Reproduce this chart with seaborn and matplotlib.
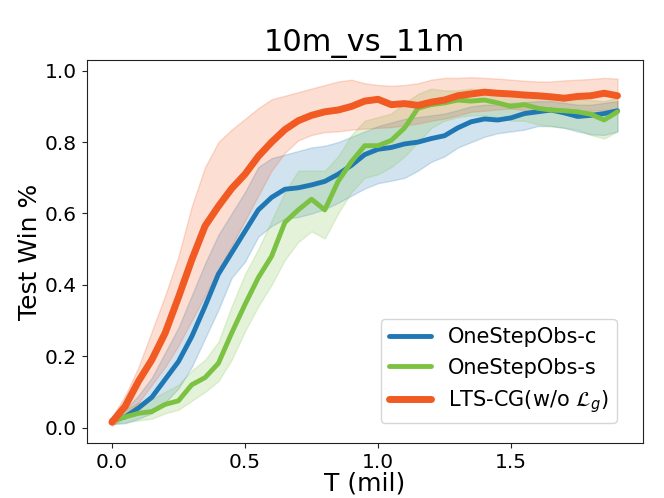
import numpy as np
import pandas as pd
import matplotlib
matplotlib.use("Agg")
import matplotlib.pyplot as plt
import seaborn as sns

# x positions in millions of timesteps
T = [round(0.05 * i, 2) for i in range(39)]

lts_mean = [0.015, 0.06, 0.13, 0.19, 0.265, 0.365, 0.47, 0.565, 0.62, 0.67,
            0.71, 0.76, 0.80, 0.835, 0.86, 0.875, 0.885, 0.89, 0.90, 0.915,
            0.92, 0.905, 0.908, 0.903, 0.912, 0.918, 0.93, 0.935, 0.94, 0.937,
            0.935, 0.932, 0.93, 0.927, 0.923, 0.928, 0.93, 0.937, 0.93]
lts_upper = [0.03, 0.09, 0.17, 0.27, 0.37, 0.48, 0.62, 0.73, 0.80, 0.835,
             0.865, 0.895, 0.92, 0.93, 0.94, 0.95, 0.96, 0.97, 0.975, 0.965,
             0.96, 0.958, 0.96, 0.965, 0.975, 0.98, 0.98, 0.982, 0.98, 0.978,
             0.975, 0.972, 0.97, 0.97, 0.973, 0.975, 0.977, 0.98, 0.978]
lts_lower = [0.005, 0.03, 0.07, 0.12, 0.17, 0.23, 0.30, 0.37, 0.44, 0.51,
             0.58, 0.65, 0.72, 0.77, 0.805, 0.82, 0.828, 0.83, 0.835, 0.838,
             0.84, 0.842, 0.847, 0.852, 0.86, 0.866, 0.875, 0.885, 0.888, 0.892,
             0.894, 0.89, 0.885, 0.885, 0.885, 0.887, 0.888, 0.89, 0.89]

c_mean = [0.02, 0.03, 0.055, 0.085, 0.135, 0.185, 0.255, 0.34, 0.43, 0.49,
          0.55, 0.61, 0.645, 0.668, 0.672, 0.68, 0.69, 0.71, 0.735, 0.765,
          0.78, 0.785, 0.795, 0.80, 0.81, 0.818, 0.84, 0.857, 0.865, 0.862,
          0.868, 0.88, 0.885, 0.89, 0.882, 0.872, 0.875, 0.88, 0.888]
c_upper = [0.03, 0.05, 0.09, 0.14, 0.21, 0.28, 0.37, 0.46, 0.54, 0.60,
           0.66, 0.73, 0.755, 0.765, 0.775, 0.785, 0.79, 0.80, 0.815, 0.83,
           0.845, 0.855, 0.865, 0.87, 0.875, 0.88, 0.89, 0.90, 0.905, 0.905,
           0.91, 0.912, 0.915, 0.915, 0.91, 0.905, 0.905, 0.91, 0.915]
c_lower = [0.01, 0.012, 0.025, 0.04, 0.07, 0.11, 0.17, 0.25, 0.33, 0.42,
           0.465, 0.535, 0.565, 0.585, 0.59, 0.60, 0.612, 0.63, 0.65, 0.67,
           0.685, 0.692, 0.70, 0.72, 0.745, 0.76, 0.785, 0.80, 0.815, 0.825,
           0.83, 0.835, 0.845, 0.845, 0.84, 0.83, 0.822, 0.82, 0.83]

s_mean = [0.02, 0.03, 0.04, 0.045, 0.065, 0.075, 0.12, 0.14, 0.18, 0.265,
          0.345, 0.42, 0.48, 0.575, 0.61, 0.64, 0.61, 0.69, 0.745, 0.79,
          0.79, 0.805, 0.84, 0.895, 0.905, 0.91, 0.918, 0.915, 0.918, 0.91,
          0.90, 0.905, 0.895, 0.89, 0.888, 0.885, 0.878, 0.862, 0.885]
s_upper = [0.03, 0.05, 0.07, 0.08, 0.10, 0.12, 0.16, 0.19, 0.24, 0.34,
           0.43, 0.50, 0.58, 0.66, 0.72, 0.72, 0.72, 0.76, 0.82, 0.86,
           0.87, 0.88, 0.91, 0.935, 0.95, 0.945, 0.945, 0.95, 0.945, 0.94,
           0.935, 0.935, 0.93, 0.925, 0.925, 0.92, 0.918, 0.915, 0.925]
s_lower = [0.01, 0.015, 0.02, 0.025, 0.04, 0.05, 0.075, 0.10, 0.13, 0.19,
           0.27, 0.34, 0.40, 0.47, 0.52, 0.55, 0.53, 0.60, 0.66, 0.70,
           0.71, 0.73, 0.76, 0.80, 0.84, 0.86, 0.87, 0.875, 0.875, 0.87,
           0.86, 0.86, 0.85, 0.845, 0.84, 0.835, 0.82, 0.81, 0.83]

labels = ["OneStepObs-c", "OneStepObs-s", r"LTS-CG(w/o $\mathcal{L}_g$)"]
colors = ["#1f77b4", "#7cc242", "#f15a22"]
widths = [3.5, 3.5, 5.0]

sns.set_style("ticks")
plt.rcParams["font.family"] = ["DejaVu Sans"]
plt.rcParams["axes.edgecolor"] = "#222222"
plt.rcParams["text.color"] = "black"
plt.rcParams["axes.labelcolor"] = "black"
plt.rcParams["xtick.color"] = "#222222"
plt.rcParams["ytick.color"] = "#222222"
plt.rcParams["xtick.labelcolor"] = "black"
plt.rcParams["ytick.labelcolor"] = "black"

fig = plt.figure(figsize=(6.64, 4.98), dpi=100)
ax = fig.add_subplot(111)
fig.subplots_adjust(left=0.1305, right=0.968, bottom=0.110, top=0.880)

series = [(c_mean, c_lower, c_upper), (s_mean, s_lower, s_upper),
          (lts_mean, lts_lower, lts_upper)]
for (m, lo, hi), lab, col, lw in zip(series, labels, colors, widths):
    df = pd.DataFrame({"T": T, "win": m})
    sns.lineplot(data=df, x="T", y="win", ax=ax, color=col, linewidth=lw,
                 label=lab)
    ax.fill_between(T, lo, hi, color=col, alpha=0.2)

ax.set_title("10m_vs_11m", fontsize=22)
ax.set_xlabel("T (mil)", fontsize=18, labelpad=0)
ax.set_ylabel("Test Win %", fontsize=18, labelpad=2)
ax.tick_params(labelsize=14.5)
ax.set_xticks([0.0, 0.5, 1.0, 1.5])
ax.set_yticks([0.0, 0.2, 0.4, 0.6, 0.8, 1.0])
ax.legend(loc="lower right", bbox_to_anchor=(0.953, 0.052), borderaxespad=0,
          fontsize=15, frameon=True)

fig.savefig("out.png", dpi=100)
